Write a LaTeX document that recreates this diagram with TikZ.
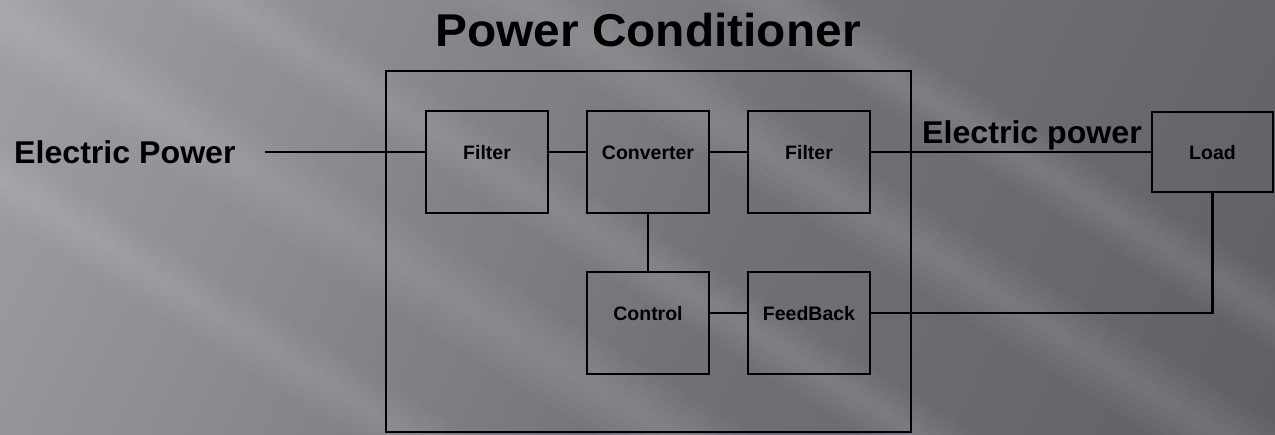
\documentclass[tikz,border=0pt]{standalone}
\usepackage{fontspec}
\setmainfont{Liberation Sans}
\definecolor{bgA}{HTML}{B3B1B7}
\definecolor{bgM}{HTML}{98969C}
\definecolor{bgN}{HTML}{727177}
\definecolor{bgB}{HTML}{56555B}
\pgfdeclarehorizontalshading{bgsh}{100bp}{color(0bp)=(bgA); color(25bp)=(bgM); color(55bp)=(bgN); color(100bp)=(bgB)}
\begin{document}
\begin{tikzpicture}[x=1pt,y=-1pt,
  wire/.style={line width=2.6pt, line cap=rect},
  blk/.style={draw=black, line width=2.6pt, minimum width=122pt, minimum height=102pt, inner sep=0pt},
  lbl/.style={font=\bfseries\fontsize{19.5}{22}\selectfont, text=black, inner sep=0pt, anchor=base},
  big/.style={font=\bfseries\fontsize{31.5}{36}\selectfont, text=black, inner sep=0pt, xscale=1.02},
  streak/.style={fill=white, fill opacity=0.025}]
\useasboundingbox (0,0) rectangle (1275,434);
% background
\shade[shading=bgsh, shading angle=-25] (0,0) rectangle (1275,434);
\begin{scope}
  \clip (0,0) rectangle (1275,434);
  \begin{scope}[rotate around={-32:(600,200)}]
    \foreach \c/\w in {70/36, 230/30, 360/40, -60/30, 500/30} {
      \foreach \k in {1,...,5} {
        \fill[streak] (-400,\c-\w*\k/5) rectangle (1700,\c+\w*\k/5);
      }
    }
  \end{scope}
\end{scope}
% title
\node[font=\bfseries\fontsize{46}{52}\selectfont, inner sep=0pt, anchor=base, xscale=1.04] (title) at (648,46.5) {Power Conditioner};
% outer box
\node[draw=black, line width=2.6pt, minimum width=525pt, minimum height=361pt, inner sep=0pt] (pc) at (648.5,251.5) {};
% blocks
\node[blk] (f1) at (487,162) {};
\node[blk] (conv) at (648,162) {};
\node[blk] (f2) at (809,162) {};
\node[blk] (ctrl) at (648,323) {};
\node[blk] (fb) at (809,323) {};
\node[blk, minimum width=121pt, minimum height=80pt] (load) at (1212.5,152) {};
% labels
\node[lbl] (lf1) at (487,159) {Filter};
\node[lbl] (lconv) at (648,159) {Converter};
\node[lbl] (lf2) at (809,159) {Filter};
\node[lbl] (lctrl) at (648,320) {Control};
\node[lbl] (lfb) at (809,320) {FeedBack};
\node[lbl] (lload) at (1212.5,159.5) {Load};
\node[big, anchor=base west] (inp) at (14,163) {Electric Power};
\node[big, anchor=base west] (outp) at (922,143) {Electric power};
% rails
\coordinate (r1) at (0,152);
\coordinate (r2) at (0,313);
\coordinate (src) at (266,152);
% connectors
\draw[wire] (src) -- (f1.west |- r1);
\draw[wire] (f1.east |- r1) -- (conv.west |- r1);
\draw[wire] (conv.east |- r1) -- (f2.west |- r1);
\draw[wire] (f2.east |- r1) -- (load.west);
\draw[wire] (conv.south) -- (ctrl.north);
\draw[wire] (ctrl.east |- r2) -- (fb.west |- r2);
\draw[wire] (fb.east |- r2) -| (load.south);
\end{tikzpicture}
\end{document}
